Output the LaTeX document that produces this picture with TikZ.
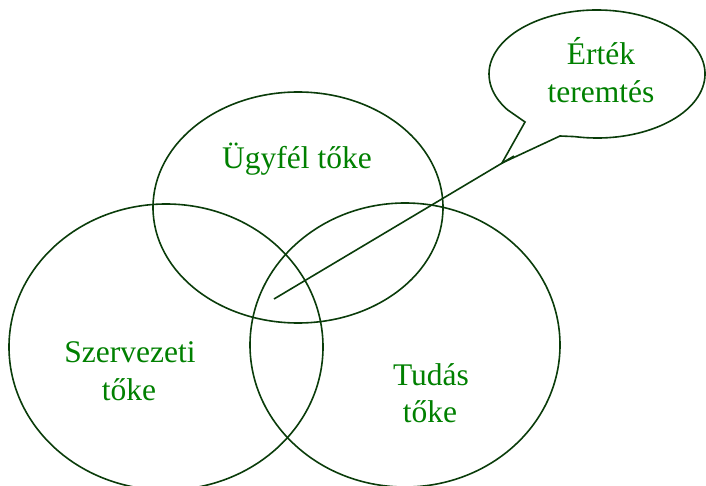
\documentclass[tikz,border=0pt]{standalone}
\usepackage{fontspec}
\setmainfont{Liberation Serif}
\usetikzlibrary{shapes.geometric,calc}
\definecolor{lineg}{RGB}{10,60,10}
\definecolor{textg}{RGB}{0,128,0}
\begin{document}
\begin{tikzpicture}[x=1pt,y=-1pt,
  bubble/.style={draw=lineg,line width=1.6pt,ellipse,inner sep=0pt},
  lbl/.style={text=textg,anchor=base,inner sep=0pt,font=\fontsize{31.5}{38}\selectfont},
  conn/.style={draw=lineg,line width=1.6pt,line join=miter}]
\useasboundingbox (0,0) rectangle (706,486);
\clip (0,0) rectangle (706,486);
% ellipses
\node[bubble,minimum width=290pt,minimum height=231pt] (ugyfel) at (298,207.5) {};
\node[bubble,minimum width=314pt,minimum height=286pt] (szerv) at (166,347) {};
\node[bubble,minimum width=310pt,minimum height=284pt] (tudas) at (405,345) {};
% callout
\coordinate (cc) at (597,74);
\coordinate (tip) at (502,163);
\coordinate (k1) at (525,122);
\coordinate (k2) at (560,136);
\draw[conn] ($(cc)+({108*cos(102)},{64*sin(102)})$) arc[start angle=102,end angle=-214,x radius=108,y radius=64]
  -- (k1) -- (tip) -- (k2) -- cycle;
% connector
\coordinate (src) at (274,299);
\coordinate (dst) at (514,156);
\draw[conn] (src) -- (dst);
% labels
\node[lbl] (t1) at (297,169) {Ügyfél tőke};
\node[lbl] (t2) at (130,362) {Szervezeti};
\node[lbl] (t3) at (129,400) {tőke};
\node[lbl] (t4) at (431,385) {Tudás};
\node[lbl] (t5) at (430,422) {tőke};
\node[lbl] (t6) at (601,65) {Érték};
\node[lbl] (t7) at (601,103) {teremtés};
\end{tikzpicture}
\end{document}
